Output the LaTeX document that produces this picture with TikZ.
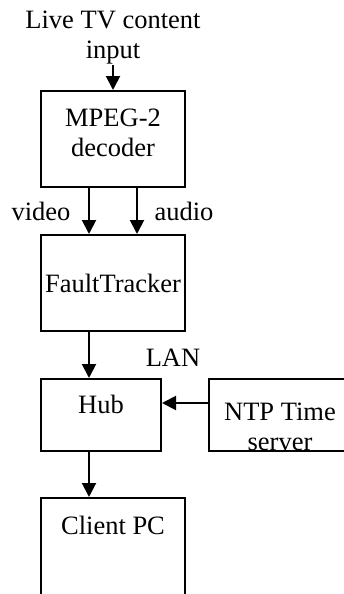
\documentclass[tikz,border=0pt]{standalone}
\usepackage{fontspec}
\setmainfont{Liberation Serif}
\usetikzlibrary{arrows.meta}

\begin{document}
\begin{tikzpicture}[x=1pt,y=-1pt,
    box/.style={draw,line width=2pt,inner sep=0pt},
    txt/.style={inner sep=0pt,align=center,font=\fontsize{26.5}{30}\selectfont},
    arr/.style={line width=2pt,-{Triangle[length=14pt,width=14pt]}}]
  \useasboundingbox (0,0) rectangle (344,594);
  \clip (0,0) rectangle (344,594);
  % input text and boxes
  \node[txt] (live) at (113,38) {Live TV content\\input};
  \node[box,minimum width=144pt,minimum height=96pt] (mpeg) at (113,139) {};
  \node[txt] (mpegtxt) at (113,133) {MPEG-2\\decoder};
  \node[box,minimum width=144pt,minimum height=96pt] (ft) at (113,283) {};
  \node[txt,anchor=base] (fttxt) at (113,292) {FaultTracker};
  \node[box,minimum width=120pt,minimum height=72pt] (hub) at (101,415) {};
  \node[txt,anchor=base] (hubtxt) at (101,413) {Hub};
  \node[box,minimum width=142pt,minimum height=72pt] (ntp) at (280,415) {};
  \node[txt,anchor=base] (ntptxt) at (280,450) {NTP Time\\server};
  \node[box,minimum width=144pt,minimum height=120pt] (client) at (113,558) {};
  \node[txt,anchor=base] (clienttxt) at (113,534) {Client PC};
  % labels
  \node[txt,anchor=base] (video) at (41,220) {video};
  \node[txt,anchor=base] (audio) at (184,220) {audio};
  \node[txt,anchor=base] (lan) at (173,366) {LAN};
  % arrows
  \draw[arr] (live) -- (mpeg);
  \draw[arr] ([xshift=-24pt]mpeg.south) -- ([xshift=-24pt]ft.north);
  \draw[arr] ([xshift=24pt]mpeg.south) -- ([xshift=24pt]ft.north);
  \draw[arr] ([xshift=-24pt]ft.south) -- ([xshift=-24pt]ft.south |- hub.north);
  \draw[arr] ([yshift=12pt]ntp.west) -- ([yshift=12pt]ntp.west -| hub.east);
  \draw[arr] ([xshift=-12pt]hub.south) -- ([xshift=-12pt]hub.south |- client.north);
\end{tikzpicture}
\end{document}
